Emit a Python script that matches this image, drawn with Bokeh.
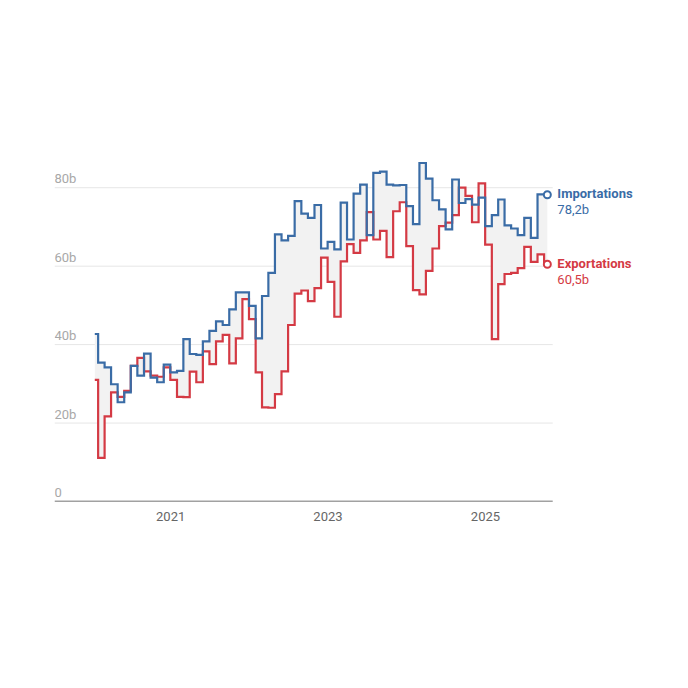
import pandas as pd
from bokeh.plotting import figure
from bokeh.models import FixedTicker, DatetimeTickFormatter, Label, Range1d, ColumnDataSource
from bokeh.embed import file_html
from bokeh.resources import INLINE

# ---- data (billions, monthly, Jan 2020 - Oct 2025) ----
first_month = "2020-01-01"
imports = [42.7, 35.4, 34.2, 29.9, 25.3, 27.8, 34.6, 32.1, 37.7, 31.6,
           30.4, 34.9, 32.9, 33.3, 41.4, 37.6, 37.4, 40.8, 43.5, 45.9,
           45.0, 49.0, 53.3, 53.3, 49.9, 41.6, 52.4, 58.3, 68.1, 66.6,
           67.7, 76.6, 73.4, 72.3, 75.6, 64.5, 66.2, 64.3, 76.2, 66.8,
           78.5, 80.8, 67.9, 83.8, 84.1, 80.8, 80.6, 80.7, 75.3, 70.7,
           86.3, 82.3, 76.8, 74.5, 69.4, 82.1, 76.1, 77.1, 75.7, 77.5,
           70.2, 73.0, 77.0, 70.4, 69.6, 67.9, 72.3, 67.2, 78.3, 78.2]
exports = [31.0, 11.1, 21.7, 27.8, 26.7, 28.2, 34.6, 36.6, 33.2, 32.1,
           31.8, 34.2, 31.0, 26.7, 26.6, 33.1, 30.4, 38.3, 35.0, 40.8,
           42.5, 35.2, 41.6, 51.6, 46.5, 32.9, 24.0, 23.9, 27.4, 33.2,
           45.0, 53.0, 53.8, 51.1, 54.4, 62.2, 56.0, 47.1, 61.2, 65.6,
           63.4, 66.6, 73.8, 66.8, 69.0, 62.3, 74.0, 76.3, 65.1, 53.9,
           52.8, 58.8, 64.5, 70.2, 71.1, 73.0, 80.0, 77.9, 71.2, 81.1,
           65.5, 41.4, 55.4, 58.0, 58.3, 59.5, 64.9, 61.1, 63.0, 60.5]
series_names = ["Importations", "Exportations"]
last_value_labels = ["78,2b", "60,5b"]
y_ticks = [0, 20, 40, 60, 80]
y_tick_labels = ["0", "20b", "40b", "60b", "80b"]
x_tick_years = [2021, 2023, 2025]

BLUE = "#3a6ca6"
RED = "#d43a44"
FONT = "Roboto"

dates = pd.date_range(first_month, periods=len(imports), freq="MS") + pd.Timedelta(days=14)
src = ColumnDataSource(dict(date=dates, imp=imports, exp=exports))

x_start = pd.Timestamp("2019-07-12")   # left edge of the chart area
axis_end = pd.Timestamp("2025-11-09")  # where axis line / gridlines stop
x_end = pd.Timestamp("2027-06-25")     # frame extends to leave room for end labels

p = figure(width=680, height=680, x_axis_type="datetime",
           x_range=Range1d(x_start, x_end), y_range=Range1d(0, 90),
           output_backend="svg", toolbar_location=None,
           min_border_left=54, min_border_right=0,
           min_border_top=148, min_border_bottom=179)
p.outline_line_color = None
p.background_fill_color = "white"
p.yaxis.visible = False
p.xgrid.visible = False
p.ygrid.visible = False

ax = p.xaxis[0]
ax.ticker = FixedTicker(ticks=[pd.Timestamp(f"{y}-01-01").value / 1e6 for y in x_tick_years])
ax.formatter = DatetimeTickFormatter(years="%Y", months="%Y", days="%Y", hours="%Y")
ax.axis_line_color = None
ax.major_tick_line_color = None
ax.minor_tick_line_color = None
ax.major_label_text_font = FONT
ax.major_label_text_font_size = "13px"
ax.major_label_text_color = "#666666"
ax.major_label_standoff = 4

# gridlines and baseline, limited to the data area
grid_y = y_ticks[1:]
p.segment(x0=[x_start] * len(grid_y), x1=[axis_end] * len(grid_y), y0=grid_y, y1=grid_y,
          line_color="#e6e6e6", line_width=1)

# band between the two series
p.varea_step(x="date", y1="imp", y2="exp", step_mode="center",
             fill_color="#f2f2f2", source=src)

p.step(x="date", y="exp", mode="center", line_color=RED, line_width=2.2,
       line_join="miter", source=src)
p.step(x="date", y="imp", mode="center", line_color=BLUE, line_width=2.2,
       line_join="miter", source=src)

p.segment(x0=[x_start], x1=[axis_end], y0=[y_ticks[0]], y1=[y_ticks[0]],
          line_color="#444444", line_width=1.5)

last_x = dates[-1]
p.scatter(x=[last_x, last_x], y=[imports[-1], exports[-1]], size=7,
          fill_color="white", line_color=[BLUE, RED], line_width=2)

# y tick labels drawn above gridlines
xs_ms = x_start.value / 1e6
for v, t in zip(y_ticks, y_tick_labels):
    p.add_layout(Label(x=xs_ms, y=v, text=t, x_offset=0, y_offset=9,
                       text_font=FONT, text_font_size="13px",
                       text_color="#a8a8a8", text_baseline="alphabetic"))

# end labels
last_ms = last_x.value / 1e6
for name, lab, val, col in zip(series_names, last_value_labels,
                               [imports[-1], exports[-1]], [BLUE, RED]):
    p.add_layout(Label(x=last_ms, y=val, text=name, x_offset=10, y_offset=1,
                       text_font=FONT, text_font_size="13px", text_font_style="bold",
                       text_color=col, text_baseline="middle"))
    p.add_layout(Label(x=last_ms, y=val, text=lab, x_offset=10, y_offset=-15,
                       text_font=FONT, text_font_size="13px",
                       text_color=col, text_baseline="middle"))

open("out.html", "w").write(file_html(p, INLINE))
